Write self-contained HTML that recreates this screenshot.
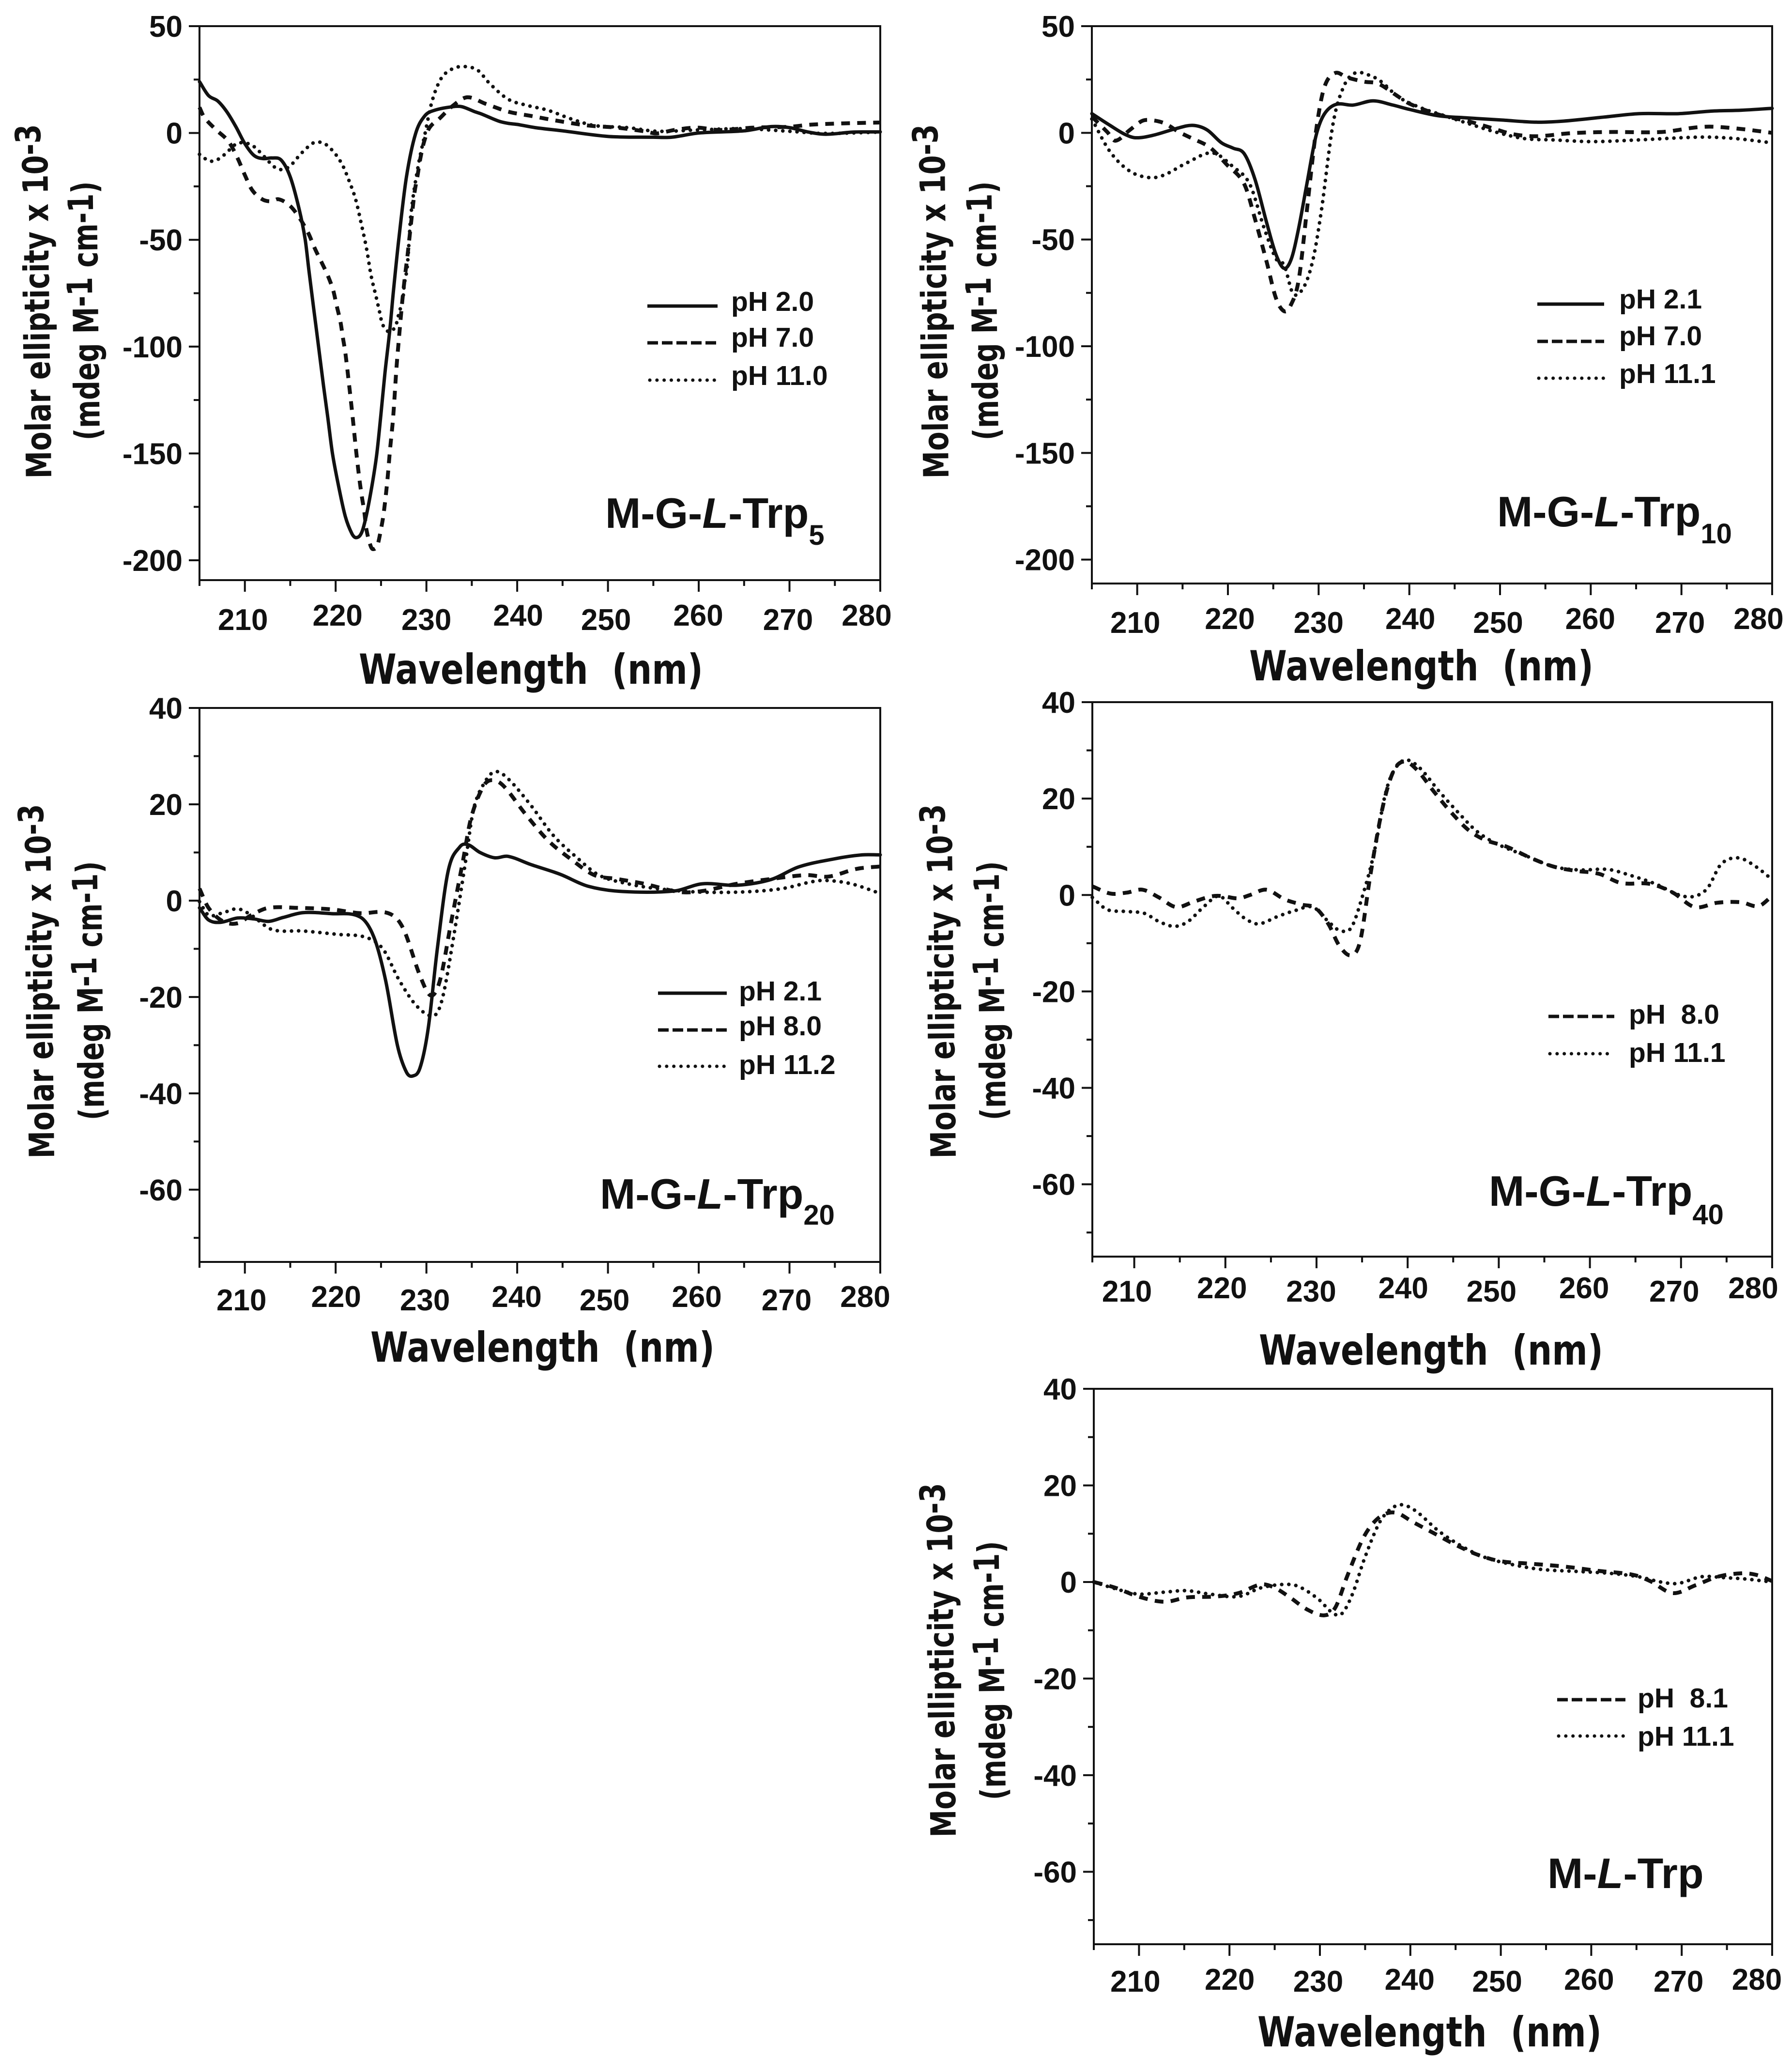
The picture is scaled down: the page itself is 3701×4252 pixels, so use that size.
<!DOCTYPE html>
<html lang="en">
<head>
<meta charset="utf-8">
<title>Circular dichroism spectra of M-G-L-Trp conjugates</title>
<style>
html,body{margin:0;padding:0;background:#fff;}
svg{display:block;}
.tick-label{font-family:"Liberation Sans",sans-serif;font-weight:700;font-size:62px;fill:#111;}
.axis-title{font-family:"DejaVu Sans",sans-serif;font-weight:700;fill:#111;}
.legend-label{font-family:"Liberation Sans",sans-serif;font-weight:700;font-size:57px;fill:#111;}
.panel-title{font-family:"Liberation Sans",sans-serif;font-weight:700;font-size:88px;fill:#111;}
.sub{font-size:58px;}
.ital{font-style:italic;}
.leg{stroke:#111;stroke-width:7;fill:none;}
.leg-dash{stroke-dasharray:22 8;}
.leg-dot{stroke-dasharray:0.1 14.7;stroke-linecap:round;}
</style>
</head>
<body>
<svg id="figure" xmlns="http://www.w3.org/2000/svg" width="3701" height="4252" viewBox="0 0 3701 4252">
<rect x="0" y="0" width="3701" height="4252" fill="#fff"/>

<g id="p1">
  <text class="axis-title" font-size="72" textLength="732" lengthAdjust="spacingAndGlyphs" transform="translate(106,988) rotate(-90.7)">Molar ellipticity x 10<tspan dy="-14">-3</tspan></text>
  <text class="axis-title" font-size="72" textLength="535" lengthAdjust="spacingAndGlyphs" transform="translate(206,909) rotate(-90.7)">(mdeg M<tspan dy="-12">-1</tspan><tspan dy="12"> cm</tspan><tspan dy="-8">-1</tspan><tspan dy="8">)</tspan></text>
  <text class="axis-title" font-size="86" x="741" y="1412" textLength="711" lengthAdjust="spacingAndGlyphs">Wavelength&#160;&#160;(nm)</text>
  <line class="leg" x1="1337" x2="1482" y1="632" y2="632"/>
  <line class="leg leg-dash" x1="1337" x2="1479" y1="708" y2="708"/>
  <line class="leg leg-dot" x1="1342" x2="1482" y1="785" y2="785"/>
  <text class="legend-label" x="1510" y="642">pH 2.0</text>
  <text class="legend-label" x="1510" y="716">pH 7.0</text>
  <text class="legend-label" x="1510" y="795">pH 11.0</text>
  <text class="panel-title" x="1250" y="1090">M-G-<tspan class="ital">L</tspan>-Trp<tspan class="sub" dy="35">5</tspan></text>
</g>

<g id="p2">
  <text class="axis-title" font-size="72" textLength="732" lengthAdjust="spacingAndGlyphs" transform="translate(1959,988) rotate(-90.7)">Molar ellipticity x 10<tspan dy="-14">-3</tspan></text>
  <text class="axis-title" font-size="72" textLength="535" lengthAdjust="spacingAndGlyphs" transform="translate(2062,909) rotate(-90.7)">(mdeg M<tspan dy="-12">-1</tspan><tspan dy="12"> cm</tspan><tspan dy="-8">-1</tspan><tspan dy="8">)</tspan></text>
  <text class="axis-title" font-size="86" x="2580" y="1405" textLength="711" lengthAdjust="spacingAndGlyphs">Wavelength&#160;&#160;(nm)</text>
  <line class="leg" x1="3175" x2="3313" y1="628" y2="628"/>
  <line class="leg leg-dash" x1="3175" x2="3313" y1="705" y2="705"/>
  <line class="leg leg-dot" x1="3178" x2="3313" y1="781" y2="781"/>
  <text class="legend-label" x="3344" y="637">pH 2.1</text>
  <text class="legend-label" x="3344" y="713">pH 7.0</text>
  <text class="legend-label" x="3344" y="791">pH 11.1</text>
  <text class="panel-title" x="3092" y="1087">M-G-<tspan class="ital">L</tspan>-Trp<tspan class="sub" dy="35">10</tspan></text>
</g>

<g id="p3">
  <text class="axis-title" font-size="72" textLength="732" lengthAdjust="spacingAndGlyphs" transform="translate(112,2392) rotate(-90.7)">Molar ellipticity x 10<tspan dy="-14">-3</tspan></text>
  <text class="axis-title" font-size="72" textLength="535" lengthAdjust="spacingAndGlyphs" transform="translate(215,2313) rotate(-90.7)">(mdeg M<tspan dy="-12">-1</tspan><tspan dy="12"> cm</tspan><tspan dy="-8">-1</tspan><tspan dy="8">)</tspan></text>
  <text class="axis-title" font-size="86" x="765" y="2812" textLength="711" lengthAdjust="spacingAndGlyphs">Wavelength&#160;&#160;(nm)</text>
  <line class="leg" x1="1359" x2="1501" y1="2051" y2="2051"/>
  <line class="leg leg-dash" x1="1359" x2="1501" y1="2127" y2="2127"/>
  <line class="leg leg-dot" x1="1362" x2="1501" y1="2202" y2="2202"/>
  <text class="legend-label" x="1526" y="2066">pH 2.1</text>
  <text class="legend-label" x="1526" y="2138">pH 8.0</text>
  <text class="legend-label" x="1526" y="2218">pH 11.2</text>
  <text class="panel-title" x="1239" y="2496">M-G-<tspan class="ital">L</tspan>-Trp<tspan class="sub" dy="33">20</tspan></text>
</g>

<g id="p4">
  <text class="axis-title" font-size="72" textLength="732" lengthAdjust="spacingAndGlyphs" transform="translate(1974,2392) rotate(-90.7)">Molar ellipticity x 10<tspan dy="-14">-3</tspan></text>
  <text class="axis-title" font-size="72" textLength="535" lengthAdjust="spacingAndGlyphs" transform="translate(2077,2313) rotate(-90.7)">(mdeg M<tspan dy="-12">-1</tspan><tspan dy="12"> cm</tspan><tspan dy="-8">-1</tspan><tspan dy="8">)</tspan></text>
  <text class="axis-title" font-size="86" x="2600" y="2818" textLength="711" lengthAdjust="spacingAndGlyphs">Wavelength&#160;&#160;(nm)</text>
  <line class="leg leg-dash" x1="3198" x2="3334" y1="2099" y2="2099"/>
  <line class="leg leg-dot" x1="3201" x2="3334" y1="2176" y2="2176"/>
  <text class="legend-label" x="3364" y="2114">pH&#160;&#160;8.0</text>
  <text class="legend-label" x="3364" y="2193">pH 11.1</text>
  <text class="panel-title" x="3075" y="2490">M-G-<tspan class="ital">L</tspan>-Trp<tspan class="sub" dy="38">40</tspan></text>
</g>

<g id="p5">
  <text class="axis-title" font-size="72" textLength="732" lengthAdjust="spacingAndGlyphs" transform="translate(1974,3794) rotate(-90.7)">Molar ellipticity x 10<tspan dy="-14">-3</tspan></text>
  <text class="axis-title" font-size="72" textLength="535" lengthAdjust="spacingAndGlyphs" transform="translate(2077,3717) rotate(-90.7)">(mdeg M<tspan dy="-12">-1</tspan><tspan dy="12"> cm</tspan><tspan dy="-8">-1</tspan><tspan dy="8">)</tspan></text>
  <text class="axis-title" font-size="86" x="2597" y="4226" textLength="711" lengthAdjust="spacingAndGlyphs">Wavelength&#160;&#160;(nm)</text>
  <line class="leg leg-dash" x1="3216" x2="3357" y1="3510" y2="3510"/>
  <line class="leg leg-dot" x1="3219" x2="3357" y1="3585" y2="3585"/>
  <text class="legend-label" x="3382" y="3526">pH&#160;&#160;8.1</text>
  <text class="legend-label" x="3382" y="3605">pH 11.1</text>
  <text class="panel-title" x="3196" y="3899">M-<tspan class="ital">L</tspan>-Trp</text>
</g>
</svg>

<script>
// ---- tick values ----
const xMajorTicks = [210, 220, 230, 240, 250, 260, 270, 280];
const xMinorTicks = [215, 225, 235, 245, 255, 265, 275];
const yMajorTicksWide = [50, 0, -50, -100, -150, -200];
const yMinorTicksWide = [25, -25, -75, -125, -175];
const yMajorTicksNarrow = [40, 20, 0, -20, -40, -60];
const yMinorTicksNarrow = [30, 10, -10, -30, -50, -70];

// ---- M-G-L-Trp5 ----
const p1Ph20Wavelength = [205,206,207,208,209,210,211,212,213,214,215,216,216.65,217.07,217.6,218.14,218.67,219.1,219.65,220.36,221.07,221.8,222.26,222.85,223.4,224.07,224.54,224.98,225.43,225.96,226.35,226.95,227.8,228.8,229.8,230.8,232.9,233.9,235.3,236,238,239,240,242,245,250,255,257,260,265,268,270,272,274,277,280];
const p1Ph20Values = [24,17.5,15,10,3,-5,-10.5,-12,-11.7,-12.7,-20.6,-36,-50,-64.9,-82.8,-100.7,-118.6,-132,-150,-166,-179.6,-187.6,-189.4,-187.2,-178.7,-163.4,-150,-132,-112.4,-92.6,-74.8,-50,-20.6,-0.4,7.9,10.5,12.3,12.3,10,9,5.5,4.5,4,2.5,1,-1.6,-2,-2,0,1,3,2.5,0.5,-0.6,0.4,0.5];
const p1Ph70Wavelength = [205,205.5,206.75,208.2,209.2,210,210.8,211.9,212.9,213.7,214.9,215.9,217,217.7,218.5,219.12,219.74,220.1,220.54,220.8,221.07,221.48,221.87,222.23,222.63,222.88,223.17,223.38,223.83,224.1,224.6,225,225.3,225.7,226,226.35,226.7,227,227.33,227.65,227.9,228.3,228.7,229,229.3,229.7,230.3,231.4,232.9,234.5,236.5,239,241.5,244.7,247.8,251,254,255.4,257.3,259.8,262.3,266,270,272.4,276,280];
const p1Ph70Values = [12,7.5,1.8,-4,-11.8,-19.7,-26.7,-31,-32,-31,-33.8,-39,-47,-54,-61,-66.6,-73.8,-80.6,-88.6,-95.8,-103,-117.7,-132.9,-147.8,-162.5,-170,-177.7,-185.4,-193,-194.8,-193,-185.4,-177.7,-162.5,-147.8,-132.4,-110,-94.9,-79.2,-66.6,-58,-42.5,-27.6,-20.6,-12.7,-4.8,2.2,6.6,12.7,16.7,13.7,10,8,5.5,3.5,2.5,0.8,-0.2,1.4,2.5,1.4,2.5,2.9,3.9,4.5,4.9];
const p1Ph110Wavelength = [205,206,206.65,207.4,208.2,209.2,210.6,211.4,212.3,213,213.7,214.5,215.1,216.2,217.4,218,218.9,220,220.8,221.4,222.2,222.9,223.4,223.9,224.45,224.8,225.16,225.87,226.6,227,227.4,227.56,227.9,228.3,229.1,229.8,230.6,231.55,232.6,233.9,235.6,237,239,241,243.4,246,248.5,252.2,255.4,259.8,264.8,270,273.6,280];
const p1Ph110Values = [-10,-13,-13,-11.4,-8.3,-4.8,-5.3,-7.9,-11.8,-15,-17,-16.7,-15,-9.6,-5,-4.2,-5.3,-10,-15.4,-21.5,-31,-44,-54,-66.6,-76.5,-83,-89.5,-93,-90.4,-84,-78,-71,-62,-38,-15.3,-1.3,14.5,25,29.4,31.1,29.5,23,15.8,13,10.6,6.5,3.5,2.5,0.8,1.4,2,0.8,-0.2,0.4];

// ---- M-G-L-Trp10 ----
const p2Ph21Wavelength = [205,207,208.6,209.8,211.7,214.3,216.1,217.7,219.3,220.6,221.8,223,224.3,225.3,226.2,227,227.8,228.7,229.7,230.6,231.9,233.8,236,238.2,240,243.2,246.4,250.2,254,257,261.5,265.3,269.7,273.4,276.6,280];
const p2Ph21Values = [9,3.5,-0.6,-2.3,-1.2,2,3.5,1.4,-4.7,-7.2,-9.8,-22,-42.6,-57,-63.5,-59,-44.7,-24,-1.6,8.6,13.3,13,15,13,11,8,7,6,5,5.5,7.4,9,9,10.2,10.6,11.5];
const p2Ph70Wavelength = [205,206.7,207.6,209.2,210.5,211.4,213,214.6,216.1,218,219.9,221.8,223,224.3,225.3,226.2,226.9,227.8,228.7,229.7,230.6,231.8,233.1,235,236.6,238.5,240,243.2,246.4,248.9,251.4,254,257.7,262,267.8,271.5,273.4,276.6,280];
const p2Ph70Values = [7.6,0.4,-3.7,1.4,5.5,6,4.5,0.4,-2.7,-6.8,-15,-24,-40.6,-61,-77.5,-83.6,-81,-69,-36.5,0.4,21,28,26,24,23,17.8,13.7,8.6,5.5,2.5,-0.6,-1.6,-0.2,0.4,0.4,2.5,2.9,1.8,0];
const p2Ph111Wavelength = [205,207,209.2,211.4,213,215.5,218.3,220.6,222.4,224,225.3,226.2,227.2,228.4,229.4,230.3,231.6,232.8,234,235.6,236.9,238.8,241.3,243.9,246.4,249.5,252.7,255.8,260.2,265.3,272.2,276,280];
const p2Ph111Values = [6.5,-8.8,-18,-21,-19.7,-14,-9.4,-16,-24,-44.7,-59,-62,-75.4,-72,-59,-36.5,4.5,22,28,27,24,16.8,11.7,8,4.5,0.4,-2.7,-3.3,-4.1,-3.3,-2,-2.7,-4.7];

// ---- M-G-L-Trp20 ----
const p3Ph21Wavelength = [205,206,207.3,209.2,211,212.6,214.2,216.4,219.5,222.7,224.2,225.5,226.8,227.8,228.5,229.3,230.2,231.2,232.4,233.7,234.6,235.9,237.5,239,241.5,244.7,247.8,251.6,257.3,260.4,264.2,268,271,275,278,280];
const p3Ph21Values = [-1.5,-4,-4.5,-3.6,-3.8,-4.3,-3.5,-2.5,-2.7,-3.4,-7.5,-16.5,-30,-35.6,-36.4,-34.7,-26.5,-10,6.2,11.2,11.6,10,8.9,9.2,7.5,5.5,3,1.9,2,3.5,3.2,4.4,7,8.7,9.5,9.5];
const p3Ph80Wavelength = [205,206,207.6,209.2,210.7,212.6,215.8,219.5,222.7,225.8,227.4,229.3,230.5,231.5,232.7,234,234.9,236.2,237.1,238.4,240.9,243.4,246,248.5,251,254,257.9,260.4,264.2,268,271.8,274.3,277.4,280];
const p3Ph80Values = [2.5,-1.5,-4.3,-4.7,-3,-1.5,-1.5,-1.8,-2.6,-2.6,-5.6,-15.6,-19.7,-16.5,-4.7,8,17,23.5,25,24,18,12.5,8.5,5.3,4.5,3.5,1.8,2,3.5,4.5,5.3,5,6.6,7.1];
const p3Ph112Wavelength = [205,206,207.6,209.2,210.7,213,216.4,220.2,223.3,225.2,227,229,230.9,231.8,233,234.3,235.2,236.5,237.6,239,241.5,244,246.6,249,252.2,255.4,259.8,264.8,269.2,272.4,274,276.8,280];
const p3Ph112Values = [-0.2,-3,-2.5,-1.7,-3,-6,-6.3,-7,-7.6,-10,-16.5,-22,-23.8,-20,-7.5,8,19,24.8,26.8,25.3,19.8,13.5,8.9,5.3,3.5,2.5,1.8,1.8,2.5,3.9,4.2,3.5,1.5];

// ---- M-G-L-Trp40 ----
const p4Ph80Wavelength = [205.4,207.4,209.2,210.9,212.7,214.6,216.5,218.4,219.6,221.4,222.7,224.5,226.5,228.4,229.9,231.3,232.5,233.8,234.8,235.9,237.2,238.4,239.6,241,242.9,244.7,246.6,248.4,250.9,253.5,256,258.5,261,263.4,266.6,269.1,271.5,274,276.6,278.5,280];
const p4Ph80Values = [1.8,0.3,0.5,1.1,-0.5,-2.5,-1.4,-0.3,-0.2,-0.7,0,1.1,-0.9,-2,-2.7,-6,-10.5,-12.5,-9.5,4,17.7,25.5,27.7,26,21.4,17.3,13.6,11.5,10,7.7,5.9,5,4.4,2.5,2.3,0.5,-2.5,-1.6,-1.5,-2.3,-0.2];
const p4Ph111Wavelength = [205.4,207,208.9,211.1,212.7,214.4,215.9,217.7,219.3,220.8,222.1,223.6,225.8,227.7,229.6,231.3,232.5,233.8,235,236.3,237.5,238.4,239.7,241.3,243.5,245.7,247.6,249.8,252.9,256,258.8,262,264.4,267.2,269.8,271.4,272.9,274.4,276.3,278.2,280];
const p4Ph111Values = [-0.5,-3,-3.4,-3.8,-5.5,-6.5,-5.5,-2.3,-0.2,-2.7,-4.8,-6,-4.4,-3.2,-2.5,-5.5,-7.3,-6.8,-0.5,8.6,20.5,25.5,28,26.4,21.4,16.8,13.2,10.6,8.2,5.9,5.2,5.3,4.1,2.3,0,-0.3,1.4,6.4,7.7,5.9,3.2];

// ---- M-L-Trp ----
const p5Ph81Wavelength = [205,207.4,209.9,212.8,215.3,218.5,221,223.5,225,226.7,228.6,230.5,231.7,233,234.6,235.8,237.1,238.5,240.2,242.5,245,247.5,250,253.2,257,260.8,264.6,266.5,269,271.5,274,276.6,278.2,280];
const p5Ph81Values = [0,-1.2,-3,-4.1,-3.2,-3,-2.3,-0.5,-1.2,-3.2,-5.7,-6.9,-5.3,1.1,8.4,12,14,14.3,12.5,10.2,7.7,5.6,4.3,3.8,3.2,2.3,1.5,0.2,-2.3,-0.7,1.1,1.8,1.5,0.2];
const p5Ph111Wavelength = [205,207.4,209.9,212.8,215.3,217.8,221,223.5,226,227.6,229.8,231.4,232.4,233.6,234.9,236.5,237.7,239,240.6,243.1,245.6,248.1,251.3,254.5,258.3,262,265.2,267.7,269.6,272.2,274.7,277.2,280];
const p5Ph111Values = [0,-1.4,-2.5,-2.1,-1.8,-2.5,-3,-1.2,-0.5,-0.9,-3.5,-6.4,-6.6,-2.5,4.7,12,14.9,16,14.7,10.6,7.5,5.2,3.6,2.6,2.2,1.8,1.1,0,-0.3,1.1,0.9,0.6,0];

const SVG_NS = 'http://www.w3.org/2000/svg';
const LINE_STYLES = {
  solid:  {width: 7, dash: null, cap: 'round'},
  dashed: {width: 8, dash: '18 15', cap: 'butt'},
  dotted: {width: 7.5, dash: '0.1 14.6', cap: 'round'}
};
const LABEL_NUDGE = [-4, 4, 0, 2, -4, -1, -3, -28];

function smoothPath(xs, ys) {
  const n = xs.length;
  const slopes = xs.map(function (_, i) {
    const a = Math.max(0, i - 1), b = Math.min(n - 1, i + 1);
    return (ys[b] - ys[a]) / (xs[b] - xs[a]);
  });
  let d = 'M' + xs[0].toFixed(1) + ' ' + ys[0].toFixed(1);
  for (let i = 0; i < n - 1; i++) {
    const h = (xs[i + 1] - xs[i]) / 3;
    d += 'C' + (xs[i] + h).toFixed(1) + ' ' + (ys[i] + slopes[i] * h).toFixed(1) + ' ' +
         (xs[i + 1] - h).toFixed(1) + ' ' + (ys[i + 1] - slopes[i + 1] * h).toFixed(1) + ' ' +
         xs[i + 1].toFixed(1) + ' ' + ys[i + 1].toFixed(1);
  }
  return d;
}

function tickLine(group, x1, y1, x2, y2, name) {
  const el = document.createElementNS(SVG_NS, 'line');
  el.setAttribute('x1', x1);
  el.setAttribute('y1', y1);
  el.setAttribute('x2', x2);
  el.setAttribute('y2', y2);
  el.setAttribute('stroke', '#111');
  el.setAttribute('stroke-width', '4');
  
  
  group.appendChild(el);
}

function tickText(group, x, y, anchor, value, name) {
  const el = document.createElementNS(SVG_NS, 'text');
  el.setAttribute('x', x);
  el.setAttribute('y', y);
  el.setAttribute('text-anchor', anchor);
  el.setAttribute('class', 'tick-label');
  
  
  el.textContent = String(value);
  group.appendChild(el);
}

function drawPanel(id, box, domain, yMajor, yMinor, labelOffsets, labelShift, series) {
  const group = document.getElementById(id);
  const xScale = function (w) { return box.left + (w - domain.xMin) * (box.right - box.left) / (280 - domain.xMin); };
  const yScale = function (v) { return box.top + (domain.yMax - v) * (box.bottom - box.top) / (domain.yMax - domain.yMin); };

  const frame = document.createElementNS(SVG_NS, 'rect');
  frame.setAttribute('x', box.left);
  frame.setAttribute('y', box.top);
  frame.setAttribute('width', box.right - box.left);
  frame.setAttribute('height', box.bottom - box.top);
  frame.setAttribute('fill', 'none');
  frame.setAttribute('stroke', '#111');
  frame.setAttribute('stroke-width', '4');
  
  
  group.appendChild(frame);

  yMajor.forEach(function (v) {
    tickLine(group, box.left - 22, yScale(v), box.left, yScale(v), 'y-major-tick');
    tickText(group, box.left - 35, yScale(v) + 22, 'end', v, 'y-tick-label');
  });
  yMinor.forEach(function (v) {
    tickLine(group, box.left - 12, yScale(v), box.left, yScale(v), 'y-minor-tick');
  });
  xMajorTicks.forEach(function (w, i) {
    tickLine(group, xScale(w), box.bottom, xScale(w), box.bottom + 24, 'x-major-tick');
    const labelX = xScale(w) + LABEL_NUDGE[i] + labelShift;
    const labelY = box.bottom + labelOffsets[i % 2] + 22;
    tickText(group, labelX, labelY, 'middle', w, 'x-tick-label');
  });
  xMinorTicks.concat([domain.xMin]).forEach(function (w) {
    tickLine(group, xScale(w), box.bottom, xScale(w), box.bottom + 12, 'x-minor-tick');
  });

  series.forEach(function (s) {
    const style = LINE_STYLES[s.kind];
    const el = document.createElementNS(SVG_NS, 'path');
    el.setAttribute('d', smoothPath(s.wavelength.map(xScale), s.values.map(yScale)));
    el.setAttribute('fill', 'none');
    el.setAttribute('stroke', '#111');
    el.setAttribute('stroke-width', style.width);
    el.setAttribute('stroke-linecap', style.cap);
    el.setAttribute('stroke-linejoin', 'round');
    if (style.dash) { el.setAttribute('stroke-dasharray', style.dash); }
    
    
    group.appendChild(el);
  });
}

drawPanel('p1', {left: 412, right: 1818, top: 54, bottom: 1198}, {xMin: 205, yMax: 50, yMin: -209.3},
  yMajorTicksWide, yMinorTicksWide, [81, 72], 0, [
    {wavelength: p1Ph110Wavelength, values: p1Ph110Values, kind: 'dotted', name: 'series-ph-11-0'},
    {wavelength: p1Ph70Wavelength, values: p1Ph70Values, kind: 'dashed', name: 'series-ph-7-0'},
    {wavelength: p1Ph20Wavelength, values: p1Ph20Values, kind: 'solid', name: 'series-ph-2-0'}
  ]);
drawPanel('p2', {left: 2255, right: 3660, top: 54, bottom: 1205}, {xMin: 205, yMax: 50, yMin: -211.2},
  yMajorTicksWide, yMinorTicksWide, [80, 72], 0, [
    {wavelength: p2Ph111Wavelength, values: p2Ph111Values, kind: 'dotted', name: 'series-ph-11-1'},
    {wavelength: p2Ph70Wavelength, values: p2Ph70Values, kind: 'dashed', name: 'series-ph-7-0'},
    {wavelength: p2Ph21Wavelength, values: p2Ph21Values, kind: 'solid', name: 'series-ph-2-1'}
  ]);
drawPanel('p3', {left: 412, right: 1818, top: 1462, bottom: 2606}, {xMin: 205, yMax: 40, yMin: -75},
  yMajorTicksNarrow, yMinorTicksNarrow, [78, 71], -3, [
    {wavelength: p3Ph112Wavelength, values: p3Ph112Values, kind: 'dotted', name: 'series-ph-11-2'},
    {wavelength: p3Ph80Wavelength, values: p3Ph80Values, kind: 'dashed', name: 'series-ph-8-0'},
    {wavelength: p3Ph21Wavelength, values: p3Ph21Values, kind: 'solid', name: 'series-ph-2-1'}
  ]);
drawPanel('p4', {left: 2256, right: 3660, top: 1450, bottom: 2595}, {xMin: 205.4, yMax: 40, yMin: -75},
  yMajorTicksNarrow, yMinorTicksNarrow, [71, 64], -11, [
    {wavelength: p4Ph111Wavelength, values: p4Ph111Values, kind: 'dotted', name: 'series-ph-11-1'},
    {wavelength: p4Ph80Wavelength, values: p4Ph80Values, kind: 'dashed', name: 'series-ph-8-0'}
  ]);
drawPanel('p5', {left: 2259, right: 3660, top: 2868, bottom: 4015}, {xMin: 205, yMax: 40, yMin: -75},
  yMajorTicksNarrow, yMinorTicksNarrow, [76, 72], -3.5, [
    {wavelength: p5Ph111Wavelength, values: p5Ph111Values, kind: 'dotted', name: 'series-ph-11-1'},
    {wavelength: p5Ph81Wavelength, values: p5Ph81Values, kind: 'dashed', name: 'series-ph-8-1'}
  ]);
</script>
</body>
</html>
